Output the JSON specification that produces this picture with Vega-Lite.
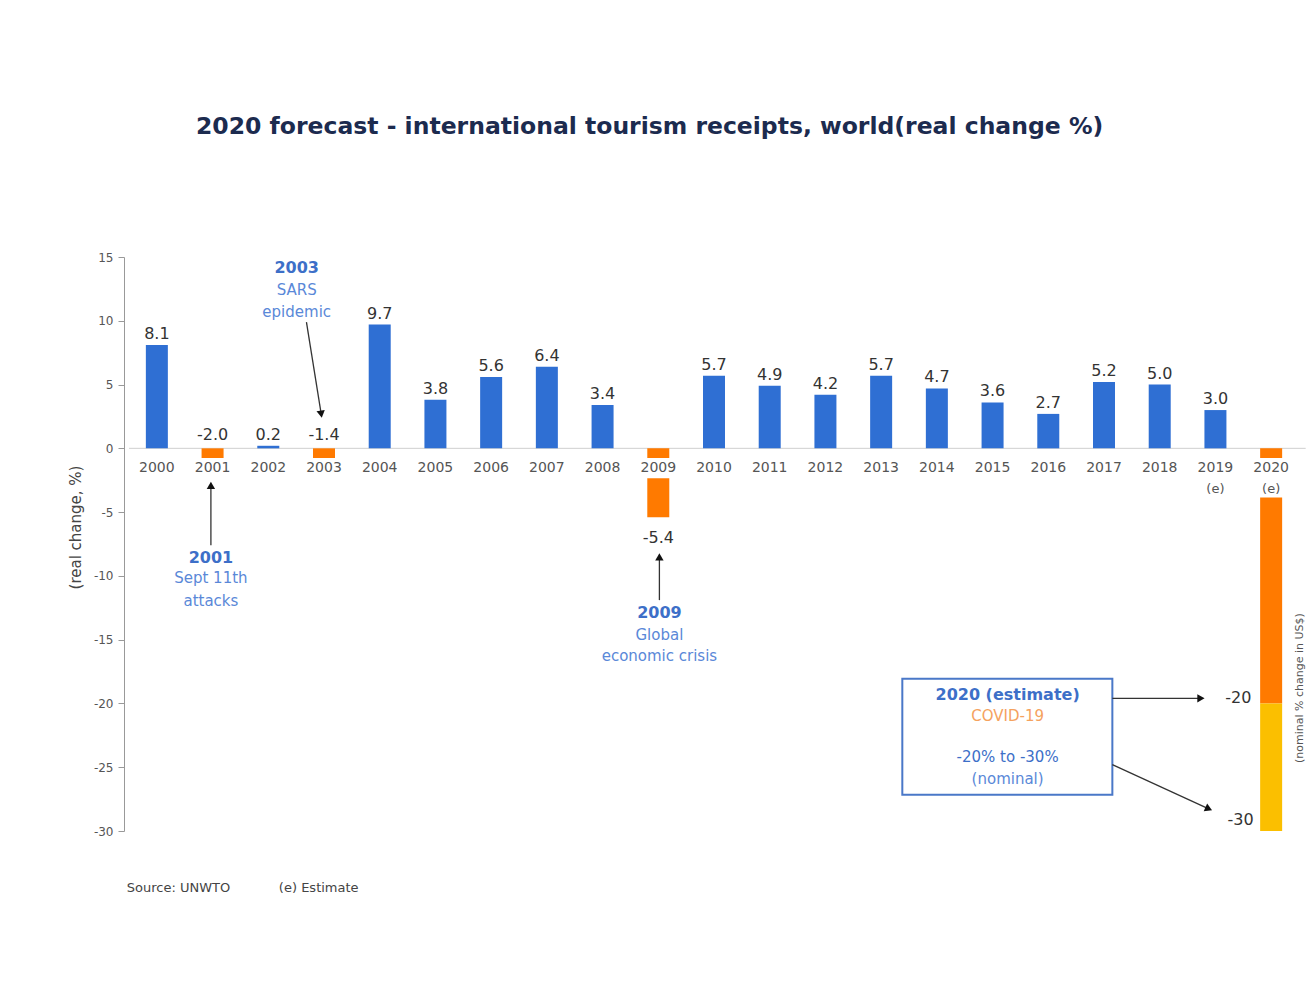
{
  "$schema": "https://vega.github.io/schema/vega-lite/v6.json",
  "width": 1180,
  "height": 574,
  "autosize": {"type": "none"},
  "padding": {"left": 124, "top": 257, "right": 7, "bottom": 151},
  "background": "white",
  "config": {
    "view": {"stroke": null},
    "font": "DejaVu Sans",
    "locale": {"number": {"decimal": ".", "thousands": ",", "grouping": [3], "currency": ["$", ""], "minus": "-"}}
  },
  "title": {
    "text": "2020 forecast - international tourism receipts, world(real change %)",
    "anchor": "start",
    "dx": 128,
    "offset": 94,
    "baseline": "alphabetic",
    "font": "DejaVu Sans",
    "fontSize": 23.5,
    "fontWeight": "bold",
    "color": "#1c2b4f"
  },
  "datasets": {
    "tourism": [
      {"year": 2000, "value": 8.1, "estimate": false},
      {"year": 2001, "value": -2.0, "estimate": false},
      {"year": 2002, "value": 0.2, "estimate": false},
      {"year": 2003, "value": -1.4, "estimate": false},
      {"year": 2004, "value": 9.7, "estimate": false},
      {"year": 2005, "value": 3.8, "estimate": false},
      {"year": 2006, "value": 5.6, "estimate": false},
      {"year": 2007, "value": 6.4, "estimate": false},
      {"year": 2008, "value": 3.4, "estimate": false},
      {"year": 2009, "value": -5.4, "estimate": false},
      {"year": 2010, "value": 5.7, "estimate": false},
      {"year": 2011, "value": 4.9, "estimate": false},
      {"year": 2012, "value": 4.2, "estimate": false},
      {"year": 2013, "value": 5.7, "estimate": false},
      {"year": 2014, "value": 4.7, "estimate": false},
      {"year": 2015, "value": 3.6, "estimate": false},
      {"year": 2016, "value": 2.7, "estimate": false},
      {"year": 2017, "value": 5.2, "estimate": false},
      {"year": 2018, "value": 5.0, "estimate": false},
      {"year": 2019, "value": 3.0, "estimate": true},
      {"year": 2020, "value": null, "estimate": true}
    ],
    "range2020": [
      {"year": 2020, "from": 0, "to": -20},
      {"year": 2020, "from": -20, "to": -30}
    ],
    "notes": [
      {"x": 2002.51, "y": 14.1, "text": "2003", "role": "headline"},
      {"x": 2000.97, "y": -8.6, "text": "2001", "role": "headline"},
      {"x": 2009.02, "y": -12.9, "text": "2009", "role": "headline"},
      {"x": 2015.27, "y": -19.3, "text": "2020 (estimate)", "role": "headline"},
      {"x": 2002.51, "y": 12.4, "text": "SARS", "role": "detail"},
      {"x": 2002.51, "y": 10.7, "text": "epidemic", "role": "detail"},
      {"x": 2000.97, "y": -10.2, "text": "Sept 11th", "role": "detail"},
      {"x": 2000.97, "y": -12.0, "text": "attacks", "role": "detail"},
      {"x": 2009.02, "y": -14.6, "text": "Global", "role": "detail"},
      {"x": 2009.02, "y": -16.3, "text": "economic crisis", "role": "detail"},
      {"x": 2015.27, "y": -21.0, "text": "COVID-19", "role": "cause"},
      {"x": 2015.27, "y": -24.2, "text": "-20% to -30%", "role": "range"},
      {"x": 2015.27, "y": -25.9, "text": "(nominal)", "role": "detail"}
    ],
    "arrows": [
      {"id": "sept11", "x": 2000.97, "y": -7.6, "x2": 2000.97, "y2": -2.9},
      {"id": "sars", "x": 2002.685, "y": 9.9, "x2": 2002.95, "y2": 2.68},
      {"id": "crisis", "x": 2009.02, "y": -11.9, "x2": 2009.02, "y2": -8.5},
      {"id": "low", "x": 2017.15, "y": -19.6, "x2": 2018.74, "y2": -19.6},
      {"id": "high", "x": 2017.15, "y": -24.8, "x2": 2018.88, "y2": -28.26}
    ],
    "sidelabels": [
      {"x": 2019.41, "y": -19.6, "text": "-20"},
      {"x": 2019.45, "y": -29.1, "text": "-30"}
    ],
    "source": [
      {"x": 1999.46, "y": -34.45, "text": "Source: UNWTO"},
      {"x": 2002.19, "y": -34.45, "text": "(e) Estimate"}
    ]
  },
  "layer": [
    {
      "data": {"values": [{}]},
      "mark": {"type": "rule", "color": "#cfcfcf", "strokeWidth": 1},
      "encoding": {
        "x": {"datum": 1999.5, "type": "quantitative", "scale": {"type": "linear", "domain": [1999.5, 2020.5], "nice": false, "zero": false}, "axis": null},
        "x2": {"datum": 2020.62},
        "y": {"datum": 0, "type": "quantitative", "scale": {"domain": [-30, 15], "nice": false, "zero": false},
          "axis": {
            "values": [-30, -25, -20, -15, -10, -5, 0, 5, 10, 15],
            "title": "(real change, %)",
            "titleFont": "DejaVu Sans",
            "titleFontSize": 15,
            "titleColor": "#444444",
            "titleFontWeight": "normal",
            "titleX": -49,
            "titleY": 270,
            "titleAngle": 270,
            "titleAlign": "center",
            "titleBaseline": "middle",
            "labelFont": "DejaVu Sans",
            "labelFontSize": 12,
            "labelColor": "#555555",
            "domainColor": "#999999",
            "tickColor": "#999999",
            "tickSize": 6,
            "labelPadding": 5,
            "grid": false
          }
        }
      }
    },
    {
      "data": {"name": "tourism"},
      "transform": [{"filter": "isValid(datum.value)"}],
      "mark": {"type": "bar", "width": 22},
      "encoding": {
        "x": {"field": "year", "type": "quantitative", "scale": {"type": "linear", "domain": [1999.5, 2020.5], "nice": false, "zero": false}, "axis": null},
        "y": {"field": "value", "type": "quantitative", "scale": {"domain": [-30, 15], "nice": false, "zero": false}},
        "y2": {"datum": 0},
        "color": {"condition": {"test": "datum.value < 0", "value": "#ff7a00"}, "value": "#2f6fd3"}
      }
    },
    {
      "data": {"name": "range2020"},
      "mark": {"type": "bar", "width": 22},
      "encoding": {
        "x": {"field": "year", "type": "quantitative", "scale": {"type": "linear", "domain": [1999.5, 2020.5], "nice": false, "zero": false}, "axis": null},
        "y": {"field": "to", "type": "quantitative", "scale": {"domain": [-30, 15], "nice": false, "zero": false}},
        "y2": {"field": "from"},
        "color": {"condition": {"test": "datum.from == 0", "value": "#ff7a00"}, "value": "#fbbf00"}
      }
    },
    {
      "data": {"name": "tourism"},
      "transform": [{"filter": "!datum.estimate"}],
      "mark": {"type": "bar", "width": 46, "color": "white"},
      "encoding": {
        "x": {"field": "year", "type": "quantitative", "scale": {"type": "linear", "domain": [1999.5, 2020.5], "nice": false, "zero": false}, "axis": null},
        "y": {"datum": -0.75, "type": "quantitative", "scale": {"domain": [-30, 15], "nice": false, "zero": false}},
        "y2": {"datum": -2.35}
      }
    },
    {
      "data": {"name": "tourism"},
      "transform": [{"filter": "datum.estimate"}],
      "mark": {"type": "bar", "width": 46, "color": "white"},
      "encoding": {
        "x": {"field": "year", "type": "quantitative", "scale": {"type": "linear", "domain": [1999.5, 2020.5], "nice": false, "zero": false}, "axis": null},
        "y": {"datum": -0.75, "type": "quantitative", "scale": {"domain": [-30, 15], "nice": false, "zero": false}},
        "y2": {"datum": -3.85}
      }
    },
    {
      "data": {"name": "tourism"},
      "mark": {"type": "text", "fontSize": 14, "color": "#555555", "baseline": "middle", "font": "DejaVu Sans"},
      "encoding": {
        "x": {"field": "year", "type": "quantitative", "scale": {"type": "linear", "domain": [1999.5, 2020.5], "nice": false, "zero": false}, "axis": null},
        "y": {"datum": -1.54, "type": "quantitative", "scale": {"domain": [-30, 15], "nice": false, "zero": false}},
        "text": {"field": "year", "type": "nominal"}
      }
    },
    {
      "data": {"name": "tourism"},
      "transform": [{"filter": "datum.estimate"}],
      "mark": {"type": "text", "fontSize": 13, "color": "#555555", "baseline": "middle", "font": "DejaVu Sans", "text": "(e)"},
      "encoding": {
        "x": {"field": "year", "type": "quantitative", "scale": {"type": "linear", "domain": [1999.5, 2020.5], "nice": false, "zero": false}, "axis": null},
        "y": {"datum": -3.2, "type": "quantitative", "scale": {"domain": [-30, 15], "nice": false, "zero": false}}
      }
    },
    {
      "data": {"name": "tourism"},
      "transform": [{"filter": "isValid(datum.value) && datum.value >= 0"}],
      "mark": {"type": "text", "fontSize": 16, "color": "#333333", "baseline": "alphabetic", "dy": -6, "font": "DejaVu Sans"},
      "encoding": {
        "x": {"field": "year", "type": "quantitative", "scale": {"type": "linear", "domain": [1999.5, 2020.5], "nice": false, "zero": false}, "axis": null},
        "y": {"field": "value", "type": "quantitative", "scale": {"domain": [-30, 15], "nice": false, "zero": false}},
        "text": {"field": "value", "type": "quantitative", "format": ".1f"}
      }
    },
    {
      "data": {"name": "tourism"},
      "transform": [{"filter": "isValid(datum.value) && datum.value < 0 && datum.value > -3"}],
      "mark": {"type": "text", "fontSize": 16, "color": "#333333", "baseline": "alphabetic", "dy": -8, "font": "DejaVu Sans"},
      "encoding": {
        "x": {"field": "year", "type": "quantitative", "scale": {"type": "linear", "domain": [1999.5, 2020.5], "nice": false, "zero": false}, "axis": null},
        "y": {"datum": 0, "type": "quantitative", "scale": {"domain": [-30, 15], "nice": false, "zero": false}},
        "text": {"field": "value", "type": "quantitative", "format": ".1f"}
      }
    },
    {
      "data": {"name": "tourism"},
      "transform": [{"filter": "isValid(datum.value) && datum.value <= -3"}],
      "mark": {"type": "text", "fontSize": 16, "color": "#333333", "baseline": "top", "dy": 13, "font": "DejaVu Sans"},
      "encoding": {
        "x": {"field": "year", "type": "quantitative", "scale": {"type": "linear", "domain": [1999.5, 2020.5], "nice": false, "zero": false}, "axis": null},
        "y": {"field": "value", "type": "quantitative", "scale": {"domain": [-30, 15], "nice": false, "zero": false}},
        "text": {"field": "value", "type": "quantitative", "format": ".1f"}
      }
    },
    {
      "data": {"values": [{}]},
      "mark": {"type": "rect", "fill": "white", "stroke": "#4a78c8", "strokeWidth": 2},
      "encoding": {
        "x": {"datum": 2013.38, "type": "quantitative", "scale": {"type": "linear", "domain": [1999.5, 2020.5], "nice": false, "zero": false}, "axis": null},
        "x2": {"datum": 2017.15},
        "y": {"datum": -18.07, "type": "quantitative", "scale": {"domain": [-30, 15], "nice": false, "zero": false}},
        "y2": {"datum": -27.16}
      }
    },
    {
      "data": {"name": "arrows"},
      "mark": {"type": "rule", "color": "#333333", "strokeWidth": 1.3},
      "encoding": {
        "x": {"field": "x", "type": "quantitative", "scale": {"type": "linear", "domain": [1999.5, 2020.5], "nice": false, "zero": false}, "axis": null},
        "x2": {"field": "x2"},
        "y": {"field": "y", "type": "quantitative", "scale": {"domain": [-30, 15], "nice": false, "zero": false}},
        "y2": {"field": "y2"}
      }
    },
    {
      "data": {"name": "arrows"},
      "transform": [{"filter": "datum.id == 'sept11' || datum.id == 'crisis'"}],
      "mark": {"type": "point", "shape": "triangle-up", "filled": true, "size": 70, "color": "#111111", "opacity": 1},
      "encoding": {
        "x": {"field": "x2", "type": "quantitative", "scale": {"type": "linear", "domain": [1999.5, 2020.5], "nice": false, "zero": false}, "axis": null},
        "y": {"field": "y2", "type": "quantitative", "scale": {"domain": [-30, 15], "nice": false, "zero": false}}
      }
    },
    {
      "data": {"name": "arrows"},
      "transform": [{"filter": "datum.id == 'sars'"}],
      "mark": {"type": "point", "shape": "triangle-up", "filled": true, "size": 70, "color": "#111111", "opacity": 1, "angle": 171},
      "encoding": {
        "x": {"field": "x2", "type": "quantitative", "scale": {"type": "linear", "domain": [1999.5, 2020.5], "nice": false, "zero": false}, "axis": null},
        "y": {"field": "y2", "type": "quantitative", "scale": {"domain": [-30, 15], "nice": false, "zero": false}}
      }
    },
    {
      "data": {"name": "arrows"},
      "transform": [{"filter": "datum.id == 'low'"}],
      "mark": {"type": "point", "shape": "triangle-up", "filled": true, "size": 70, "color": "#111111", "opacity": 1, "angle": 90},
      "encoding": {
        "x": {"field": "x2", "type": "quantitative", "scale": {"type": "linear", "domain": [1999.5, 2020.5], "nice": false, "zero": false}, "axis": null},
        "y": {"field": "y2", "type": "quantitative", "scale": {"domain": [-30, 15], "nice": false, "zero": false}}
      }
    },
    {
      "data": {"name": "arrows"},
      "transform": [{"filter": "datum.id == 'high'"}],
      "mark": {"type": "point", "shape": "triangle-up", "filled": true, "size": 70, "color": "#111111", "opacity": 1, "angle": 114},
      "encoding": {
        "x": {"field": "x2", "type": "quantitative", "scale": {"type": "linear", "domain": [1999.5, 2020.5], "nice": false, "zero": false}, "axis": null},
        "y": {"field": "y2", "type": "quantitative", "scale": {"domain": [-30, 15], "nice": false, "zero": false}}
      }
    },
    {
      "data": {"name": "notes"},
      "transform": [{"filter": "datum.role == 'headline'"}],
      "mark": {"type": "text", "fontSize": 16, "fontWeight": "bold", "color": "#3d6fc8", "baseline": "middle", "font": "DejaVu Sans"},
      "encoding": {
        "x": {"field": "x", "type": "quantitative", "scale": {"type": "linear", "domain": [1999.5, 2020.5], "nice": false, "zero": false}, "axis": null},
        "y": {"field": "y", "type": "quantitative", "scale": {"domain": [-30, 15], "nice": false, "zero": false}},
        "text": {"field": "text", "type": "nominal"}
      }
    },
    {
      "data": {"name": "notes"},
      "transform": [{"filter": "datum.role != 'headline'"}],
      "mark": {"type": "text", "fontSize": 15, "baseline": "middle", "font": "DejaVu Sans"},
      "encoding": {
        "x": {"field": "x", "type": "quantitative", "scale": {"type": "linear", "domain": [1999.5, 2020.5], "nice": false, "zero": false}, "axis": null},
        "y": {"field": "y", "type": "quantitative", "scale": {"domain": [-30, 15], "nice": false, "zero": false}},
        "text": {"field": "text", "type": "nominal"},
        "color": {
          "condition": [
            {"test": "datum.role == 'cause'", "value": "#f5a25e"},
            {"test": "datum.role == 'range'", "value": "#3d6fc8"}
          ],
          "value": "#5a88d8"
        }
      }
    },
    {
      "data": {"name": "sidelabels"},
      "mark": {"type": "text", "fontSize": 16, "color": "#333333", "baseline": "middle", "font": "DejaVu Sans"},
      "encoding": {
        "x": {"field": "x", "type": "quantitative", "scale": {"type": "linear", "domain": [1999.5, 2020.5], "nice": false, "zero": false}, "axis": null},
        "y": {"field": "y", "type": "quantitative", "scale": {"domain": [-30, 15], "nice": false, "zero": false}},
        "text": {"field": "text", "type": "nominal"}
      }
    },
    {
      "data": {"values": [{"text": "(nominal % change in US$)"}]},
      "mark": {"type": "text", "fontSize": 11, "color": "#555555", "baseline": "middle", "angle": 270, "font": "DejaVu Sans"},
      "encoding": {
        "x": {"datum": 2020.52, "type": "quantitative", "scale": {"type": "linear", "domain": [1999.5, 2020.5], "nice": false, "zero": false}, "axis": null},
        "y": {"datum": -18.8, "type": "quantitative", "scale": {"domain": [-30, 15], "nice": false, "zero": false}},
        "text": {"field": "text", "type": "nominal"}
      }
    },
    {
      "data": {"name": "source"},
      "mark": {"type": "text", "fontSize": 13, "color": "#444444", "baseline": "middle", "align": "left", "font": "DejaVu Sans"},
      "encoding": {
        "x": {"field": "x", "type": "quantitative", "scale": {"type": "linear", "domain": [1999.5, 2020.5], "nice": false, "zero": false}, "axis": null},
        "y": {"field": "y", "type": "quantitative", "scale": {"domain": [-30, 15], "nice": false, "zero": false}},
        "text": {"field": "text", "type": "nominal"}
      }
    }
  ]
}
